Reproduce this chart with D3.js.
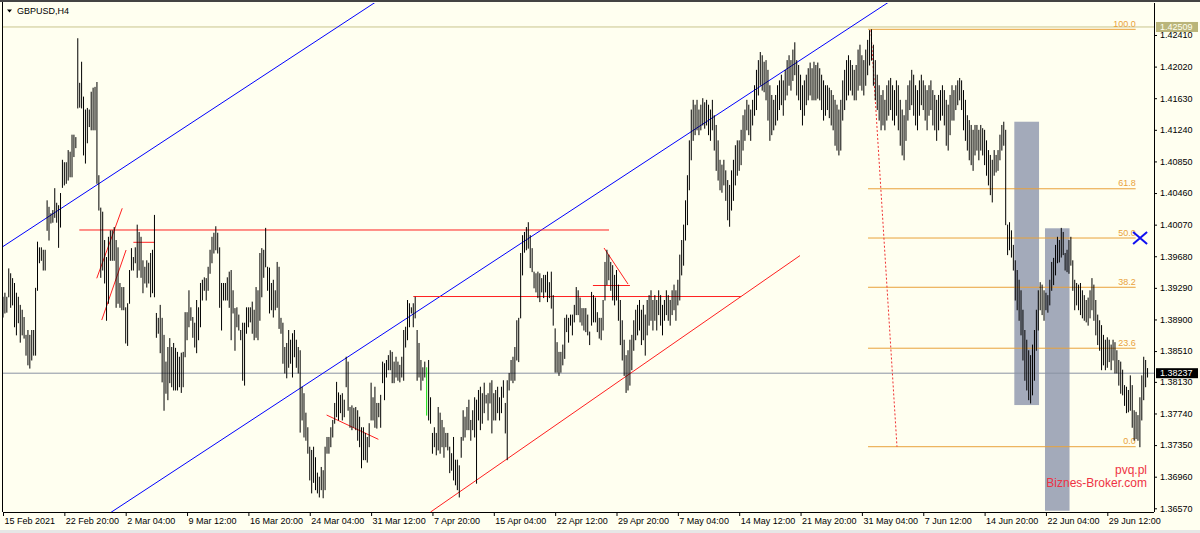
<!DOCTYPE html>
<html><head><meta charset="utf-8">
<script src="https://cdn.jsdelivr.net/npm/d3@7"></script>
<style>body{margin:0;background:#FFFFF0;}svg{display:block;font-family:"Liberation Sans",Arial,sans-serif;}</style>
</head><body><svg id="c" width="1200" height="533"></svg>
<script>
const symbolTitle = "GBPUSD,H4";
const timeLabels = ["15 Feb 2021","22 Feb 20:00","2 Mar 04:00","9 Mar 12:00","16 Mar 20:00","24 Mar 04:00","31 Mar 12:00","7 Apr 20:00","15 Apr 04:00","22 Apr 12:00","29 Apr 20:00","7 May 04:00","14 May 12:00","21 May 20:00","31 May 04:00","7 Jun 12:00","14 Jun 20:00","22 Jun 04:00","29 Jun 12:00"];
const barsPerLabel = 32;
const priceTicks = [1.42410,1.42020,1.41630,1.41240,1.40850,1.40460,1.40070,1.39680,1.39290,1.38900,1.38510,1.38130,1.37740,1.37350,1.36960,1.36570];
const highs = [
1.3918,1.3923,1.3918,1.3953,1.3947,1.3941,1.3935,1.3923,1.3918,1.3908,1.3902,1.3893,1.3871,1.3877,1.3871,1.3877,1.3877,1.3929,1.3986,1.3979,1.3979,1.3976,1.3976,1.4037,1.4029,1.4021,1.4025,1.4052,1.4034,1.4031,1.4046,1.4087,
1.4084,1.4084,1.4099,1.4097,1.4118,1.4118,1.4115,1.4237,1.4182,1.4208,1.4165,1.4149,1.4151,1.4149,1.4171,1.4176,1.4177,1.4183,1.4068,1.4028,1.4023,1.3988,1.3967,1.3992,1.4000,1.4000,1.4004,1.3988,1.3979,1.3935,1.3930,1.3930,
1.3905,1.3910,1.3951,1.3978,1.3967,1.3979,1.4007,1.3998,1.3992,1.3963,1.3955,1.3963,1.3960,1.3972,1.3976,1.4019,1.3898,1.3892,1.3908,1.3892,1.3871,1.3838,1.3856,1.3867,1.3856,1.3861,1.3855,1.3850,1.3844,1.3849,1.3850,1.3899,
1.3899,1.3926,1.3905,1.3893,1.3886,1.3914,1.3905,1.3935,1.3939,1.3942,1.3941,1.3955,1.3976,1.3992,1.3997,1.4005,1.3997,1.3979,1.3935,1.3935,1.3935,1.3942,1.3949,1.3951,1.3926,1.3904,1.3905,1.3896,1.3877,1.3886,1.3886,1.3905,
1.3905,1.3905,1.3912,1.3902,1.3930,1.3926,1.3972,1.3978,1.3976,1.4003,1.3955,1.3954,1.3935,1.3939,1.3926,1.3961,1.3955,1.3892,1.3886,1.3856,1.3861,1.3877,1.3865,1.3873,1.3877,1.3865,1.3856,1.3852,1.3807,1.3799,1.3775,1.3757,
1.3733,1.3729,1.3733,1.3720,1.3701,1.3696,1.3708,1.3704,1.3733,1.3745,1.3745,1.3757,1.3766,1.3787,1.3813,1.3800,1.3797,1.3799,1.3791,1.3844,1.3838,1.3782,1.3784,1.3781,1.3782,1.3778,1.3770,1.3757,1.3757,1.3750,1.3745,1.3762,
1.3812,1.3794,1.3807,1.3787,1.3787,1.3797,1.3838,1.3836,1.3840,1.3846,1.3852,1.3850,1.3838,1.3844,1.3838,1.3834,1.3844,1.3877,1.3881,1.3914,1.3910,1.3905,1.3910,1.3918,1.3877,1.3861,1.3840,1.3831,1.3838,1.3831,1.3840,1.3794,
1.3750,1.3757,1.3750,1.3782,1.3775,1.3766,1.3757,1.3750,1.3750,1.3733,1.3725,1.3745,1.3717,1.3717,1.3710,1.3745,1.3778,1.3770,1.3782,1.3791,1.3766,1.3778,1.3794,1.3791,1.3803,1.3807,1.3799,1.3812,1.3797,1.3799,1.3812,1.3815,
1.3799,1.3803,1.3807,1.3794,1.3807,1.3815,1.3787,1.3815,1.3824,1.3840,1.3844,1.3856,1.3889,1.3892,1.3972,1.3994,1.3998,1.4004,1.4010,1.3994,1.3978,1.3949,1.3947,1.3949,1.3947,1.3941,1.3945,1.3945,1.3949,1.3936,1.3949,1.3920,
1.3879,1.3862,1.3850,1.3850,1.3859,1.3892,1.3896,1.3892,1.3896,1.3896,1.3908,1.3930,1.3926,1.3917,1.3904,1.3904,1.3904,1.3896,1.3875,1.3924,1.3920,1.3917,1.3899,1.3892,
1.3892,1.3914,1.3961,1.3976,1.3970,1.3961,1.3957,1.3945,
1.3951,1.3933,1.3914,1.3889,1.3865,1.3846,1.3852,1.3865,
1.3871,1.3889,1.3902,1.3908,1.3914,1.3902,1.3908,1.3896,
1.3914,1.3920,1.3926,1.3914,1.3920,1.3914,1.3926,1.3920,
1.3908,1.3914,1.3926,1.3920,1.3914,1.3926,1.3933,1.3926,
1.3939,1.3970,1.3988,1.4007,1.4037,1.4068,1.4111,1.4149,
1.4161,1.4155,1.4161,1.4149,1.4155,1.4163,1.4158,1.4161,
1.4155,1.4149,1.4161,1.4142,1.4130,1.4111,1.4087,1.4081,
1.4087,1.4074,1.4062,1.4056,1.4074,1.4087,1.4105,1.4111,
1.4111,1.4124,1.4142,1.4149,1.4161,1.4155,1.4149,1.4161,
1.4179,1.4198,1.4210,1.4220,1.4216,1.4208,1.4210,1.4198,
1.4179,1.4167,1.4161,1.4167,1.4179,1.4185,1.4192,1.4185,
1.4198,1.4210,1.4216,1.4210,1.4223,1.4232,1.4210,1.4204,
1.4192,1.4179,1.4185,1.4192,1.4200,1.4207,1.4200,1.4208,
1.4204,1.4207,1.4200,1.4192,1.4185,1.4179,1.4179,1.4176,
1.4173,1.4167,1.4161,1.4155,1.4149,1.4161,1.4185,1.4198,
1.4210,1.4216,1.4210,1.4204,1.4198,1.4204,1.4223,1.4229,
1.4216,1.4210,1.4223,1.4235,1.4247,1.4248,1.4229,1.4210,
1.4192,1.4179,1.4167,1.4173,1.4161,1.4179,1.4185,1.4188,
1.4179,1.4173,1.4185,1.4179,1.4161,1.4149,1.4142,1.4161,
1.4179,1.4185,1.4198,1.4192,1.4179,1.4173,1.4185,1.4192,
1.4185,1.4179,1.4173,1.4179,1.4185,1.4173,1.4167,1.4161,
1.4167,1.4173,1.4179,1.4173,1.4161,1.4155,1.4167,1.4179,
1.4173,1.4179,1.4185,1.4188,1.4185,1.4173,1.4161,1.4142,
1.4136,1.4130,1.4124,1.4130,1.4130,1.4124,1.4130,1.4126,
1.4124,1.4111,1.4099,1.4093,1.4087,1.4099,1.4093,1.4099,
1.4118,1.4130,1.4134,1.4124,1.4007,1.4010,1.4000,1.3982,
1.3963,1.3951,1.3939,1.3926,1.3902,1.3877,1.3865,1.3852,
1.3846,1.3859,1.3877,1.3902,1.3926,1.3936,1.3933,1.3926,
1.3923,1.3920,1.3939,1.3961,1.3966,1.3982,1.3992,1.3988,
1.4003,1.3998,1.3972,1.3976,1.3988,1.3992,1.3963,1.3939,
1.3935,1.3933,1.3935,1.3926,1.3920,1.3914,1.3917,1.3926,
1.3941,1.3933,1.3914,1.3896,1.3889,1.3883,1.3871,1.3865,
1.3868,1.3865,1.3859,1.3865,1.3862,1.3852,1.3840,1.3838,
1.3828,1.3809,1.3807,1.3803,1.3821,1.3809,1.3778,1.3776,
1.3772,1.3794,1.3821,1.3844,1.3840,1.3830
];
const lows = [
1.3893,1.3898,1.3899,1.3918,1.3905,1.3908,1.3881,1.3871,1.3886,1.3862,1.3871,1.3867,1.3846,1.3834,1.3830,1.3840,1.3846,1.3846,1.3926,1.3960,1.3963,1.3951,1.3951,1.4000,1.3988,1.4009,1.4010,1.4016,1.4010,1.3979,1.4004,1.4053,
1.4056,1.4058,1.4062,1.4066,1.4066,1.4091,1.4102,1.4151,1.4152,1.4151,1.4093,1.4083,1.4108,1.4128,1.4124,1.4124,1.4124,1.4058,1.4025,1.3942,1.3951,1.3935,1.3889,1.3910,1.3963,1.3963,1.3963,1.3905,1.3910,1.3905,1.3902,1.3902,
1.3861,1.3858,1.3910,1.3951,1.3951,1.3960,1.3942,1.3951,1.3942,1.3923,1.3935,1.3930,1.3935,1.3918,1.3923,1.3918,1.3868,1.3873,1.3849,1.3813,1.3778,1.3799,1.3791,1.3812,1.3807,1.3803,1.3803,1.3803,1.3807,1.3800,1.3807,1.3844,
1.3865,1.3881,1.3889,1.3868,1.3856,1.3849,1.3865,1.3881,1.3914,1.3926,1.3914,1.3926,1.3947,1.3960,1.3972,1.3976,1.3972,1.3905,1.3877,1.3914,1.3914,1.3914,1.3905,1.3865,1.3898,1.3852,1.3881,1.3877,1.3865,1.3815,1.3809,1.3873,
1.3881,1.3887,1.3873,1.3865,1.3868,1.3865,1.3889,1.3918,1.3942,1.3955,1.3926,1.3898,1.3902,1.3893,1.3902,1.3905,1.3879,1.3873,1.3836,1.3824,1.3818,1.3831,1.3836,1.3819,1.3844,1.3831,1.3824,1.3751,1.3766,1.3745,1.3741,1.3725,
1.3692,1.3676,1.3689,1.3680,1.3676,1.3671,1.3680,1.3670,1.3680,1.3725,1.3725,1.3733,1.3745,1.3762,1.3770,1.3766,1.3775,1.3766,1.3770,1.3807,1.3778,1.3757,1.3754,1.3757,1.3754,1.3741,1.3733,1.3707,1.3717,1.3717,1.3714,1.3733,
1.3766,1.3766,1.3757,1.3756,1.3770,1.3757,1.3812,1.3791,1.3819,1.3828,1.3828,1.3812,1.3812,1.3819,1.3815,1.3813,1.3819,1.3815,1.3856,1.3865,1.3881,1.3898,1.3881,1.3892,1.3815,1.3819,1.3803,1.3815,1.3819,1.3772,1.3766,1.3762,
1.3725,1.3733,1.3723,1.3729,1.3725,1.3733,1.3720,1.3733,1.3729,1.3701,1.3704,1.3692,1.3686,1.3680,1.3671,1.3720,1.3741,1.3745,1.3754,1.3754,1.3741,1.3754,1.3745,1.3688,1.3766,1.3754,1.3762,1.3775,1.3787,1.3766,1.3787,1.3750,
1.3766,1.3766,1.3775,1.3766,1.3775,1.3794,1.3750,1.3717,1.3803,1.3815,1.3812,1.3815,1.3840,1.3838,1.3892,1.3945,1.3973,1.3976,1.3978,1.3954,1.3949,1.3929,1.3924,1.3917,1.3912,1.3924,1.3917,1.3924,1.3912,1.3917,1.3904,1.3883,
1.3825,1.3825,1.3821,1.3825,1.3834,1.3842,1.3875,1.3862,1.3883,1.3871,1.3887,1.3896,1.3896,1.3887,1.3883,1.3877,1.3875,1.3871,1.3859,1.3883,1.3887,1.3887,1.3875,1.3867,
1.3865,1.3877,1.3914,1.3933,1.3939,1.3926,1.3914,1.3908,
1.3914,1.3889,1.3859,1.3840,1.3821,1.3800,1.3803,1.3809,
1.3828,1.3852,1.3865,1.3871,1.3877,1.3859,1.3865,1.3846,
1.3871,1.3883,1.3889,1.3877,1.3889,1.3877,1.3896,1.3883,
1.3871,1.3889,1.3896,1.3889,1.3883,1.3896,1.3902,1.3889,
1.3908,1.3914,1.3945,1.3957,1.3988,1.4007,1.4050,1.4087,
1.4111,1.4118,1.4124,1.4118,1.4124,1.4130,1.4126,1.4130,
1.4118,1.4111,1.4124,1.4099,1.4074,1.4062,1.4050,1.4047,
1.4056,1.4037,1.4013,1.4005,1.4025,1.4037,1.4056,1.4068,
1.4074,1.4081,1.4099,1.4111,1.4124,1.4118,1.4111,1.4130,
1.4142,1.4149,1.4167,1.4179,1.4173,1.4171,1.4161,1.4136,
1.4111,1.4118,1.4124,1.4130,1.4136,1.4149,1.4155,1.4142,
1.4161,1.4167,1.4179,1.4173,1.4185,1.4192,1.4167,1.4161,
1.4149,1.4130,1.4142,1.4155,1.4161,1.4167,1.4161,1.4161,
1.4161,1.4163,1.4161,1.4149,1.4136,1.4142,1.4149,1.4139,
1.4130,1.4124,1.4105,1.4099,1.4093,1.4099,1.4136,1.4149,
1.4161,1.4167,1.4173,1.4167,1.4161,1.4161,1.4173,1.4179,
1.4173,1.4167,1.4179,1.4192,1.4204,1.4210,1.4179,1.4161,
1.4149,1.4136,1.4124,1.4130,1.4124,1.4136,1.4142,1.4149,
1.4136,1.4130,1.4142,1.4124,1.4105,1.4093,1.4087,1.4111,
1.4136,1.4149,1.4155,1.4142,1.4130,1.4124,1.4142,1.4155,
1.4149,1.4136,1.4124,1.4142,1.4149,1.4130,1.4124,1.4111,
1.4124,1.4136,1.4142,1.4130,1.4105,1.4099,1.4118,1.4136,
1.4136,1.4149,1.4155,1.4161,1.4149,1.4124,1.4111,1.4099,
1.4087,1.4081,1.4074,1.4093,1.4099,1.4087,1.4099,1.4093,
1.4081,1.4068,1.4056,1.4044,1.4035,1.4068,1.4072,1.4074,
1.4087,1.4099,1.4105,1.4007,1.3970,1.3976,1.3967,1.3951,
1.3914,1.3902,1.3889,1.3871,1.3840,1.3815,1.3803,1.3791,
1.3787,1.3797,1.3815,1.3852,1.3877,1.3902,1.3896,1.3889,
1.3902,1.3899,1.3908,1.3926,1.3933,1.3945,1.3960,1.3961,
1.3967,1.3970,1.3951,1.3949,1.3947,1.3957,1.3926,1.3902,
1.3908,1.3902,1.3896,1.3892,1.3889,1.3887,1.3883,1.3892,
1.3902,1.3889,1.3871,1.3859,1.3852,1.3828,1.3834,1.3828,
1.3831,1.3838,1.3828,1.3840,1.3824,1.3824,1.3809,1.3799,
1.3797,1.3784,1.3775,1.3776,1.3778,1.3757,1.3741,1.3743,
1.3741,1.3733,1.3766,1.3791,1.3807,1.3819
];
const greenBarIndex = 221;
const currentPrice = 1.38237;
const markerPrice = 1.42509;
const fibHigh = 1.4248, fibLow = 1.3733;
const fibLevels = [100, 61.8, 50, 38.2, 23.6, 0];
const fibFrom = 451.2, fibTo = 590.8;
const fibBase = {i1: 452.7, p1: 1.4247, i2: 466.3, p2: 1.3733};
const channelLines = [
  {i1: 0, p1: 1.3980, i2: 150, p2: 1.42128},
  {i1: 100, p1: 1.37198, i2: 400, p2: 1.41854}
];
const redTrendLines = [
  {i1: 223.0, p1: 1.36524, i2: 415.7, p2: 1.39688},
  {i1: 39.8, p1: 1.40004, i2: 316.1, p2: 1.40004},
  {i1: 214.0, p1: 1.39183, i2: 385.0, p2: 1.39183},
  {i1: 68.0, p1: 1.39852, i2: 79.3, p2: 1.39852},
  {i1: 307.7, p1: 1.39319, i2: 327.0, p2: 1.39319},
  {i1: 313.5, p1: 1.39782, i2: 326.0, p2: 1.39337},
  {i1: 48.9, p1: 1.39408, i2: 62.2, p2: 1.40272},
  {i1: 51.5, p1: 1.38893, i2: 64.2, p2: 1.39757},
  {i1: 168.8, p1: 1.37721, i2: 195.8, p2: 1.37421}
];
const zones = [
  {i1: 527.5, i2: 540.4, p1: 1.41340, p2: 1.37844},
  {i1: 543.5, i2: 556.3, p1: 1.40025, p2: 1.36540}
];
const crossMark = {i: 593.1, p: 1.39905};
const watermark = ["pvq.pl", "Biznes-Broker.com"];

const svg = d3.select("#c");
const L = 3, R = 1154, T = 3, B = 512;
const x = d3.scaleLinear().domain([0, 600]).range([3, 3 + 600 * 61.35 / barsPerLabel]);
const y = d3.scaleLinear().domain([1.36570, 1.42410]).range([508.3, 35]);

svg.append("rect").attr("width",1200).attr("height",533).attr("fill","#FFFFF0");
svg.append("rect").attr("x",0).attr("y",530).attr("width",1200).attr("height",3).attr("fill","#E6E6E6");
svg.append("defs").append("clipPath").attr("id","plot").append("rect")
  .attr("x",L).attr("y",T).attr("width",R-L).attr("height",B-T);
const g = svg.append("g").attr("clip-path","url(#plot)");

g.selectAll(".zone").data(zones).join("rect")
  .attr("x",d=>x(d.i1)).attr("width",d=>x(d.i2)-x(d.i1))
  .attr("y",d=>y(d.p1)).attr("height",d=>y(d.p2)-y(d.p1))
  .attr("fill","#A3AABA");

g.append("line").attr("x1",L).attr("x2",R).attr("y1",y(markerPrice)).attr("y2",y(markerPrice))
  .attr("stroke","#C9C58E").attr("stroke-width",1);
g.append("line").attr("x1",L).attr("x2",R).attr("y1",y(currentPrice)).attr("y2",y(currentPrice))
  .attr("stroke","#8A93A3").attr("stroke-width",1);

const fibPrice = lv => fibLow + (fibHigh - fibLow) * lv / 100;
g.selectAll(".fib").data(fibLevels).join("line")
  .attr("x1",x(fibFrom)).attr("x2",x(fibTo))
  .attr("y1",d=>y(fibPrice(d))).attr("y2",d=>y(fibPrice(d)))
  .attr("stroke","#E9A23B").attr("stroke-width",1);
g.selectAll(".fibt").data(fibLevels).join("text")
  .attr("x",x(fibTo)).attr("y",d=>y(fibPrice(d))-2.5)
  .attr("text-anchor","end").attr("font-size",9).attr("fill","#E9A23B")
  .text(d=>d.toFixed(1));
g.append("line").attr("x1",x(fibBase.i1)).attr("y1",y(fibBase.p1)).attr("x2",x(fibBase.i2)).attr("y2",y(fibBase.p2))
  .attr("stroke","#F03030").attr("stroke-dasharray","2,2").attr("stroke-width",1);

channelLines.forEach(d => {
  const s = (d.p2 - d.p1) / (d.i2 - d.i1);
  const a = -100, b = 700;
  g.append("line").attr("x1",x(a)).attr("y1",y(d.p1 + s*(a-d.i1)))
    .attr("x2",x(b)).attr("y2",y(d.p1 + s*(b-d.i1)))
    .attr("stroke","#0000FF").attr("stroke-width",1);
});
g.selectAll(".red").data(redTrendLines).join("line")
  .attr("x1",d=>x(d.i1)).attr("y1",d=>y(d.p1)).attr("x2",d=>x(d.i2)).attr("y2",d=>y(d.p2))
  .attr("stroke","#FF2020").attr("stroke-width",1);

g.selectAll(".bar").data(highs.map((h,i)=>({i,h,l:lows[i]}))).join("line")
  .attr("x1",d=>x(d.i)).attr("x2",d=>x(d.i))
  .attr("y1",d=>y(d.h)).attr("y2",d=>y(d.l)+0.5)
  .attr("stroke",d=>d.i===greenBarIndex?"#00DD00":"#000").attr("stroke-width",1);

const cx = x(crossMark.i), cy = y(crossMark.p);
g.append("path").attr("d",`M${cx-7},${cy-6}L${cx+7},${cy+6}M${cx-7},${cy+6}L${cx+7},${cy-6}`)
  .attr("stroke","#1010F0").attr("stroke-width",2).attr("fill","none");

g.append("text").attr("x",1147).attr("y",474).attr("text-anchor","end").attr("font-size",12).attr("fill","#EE3344").text(watermark[0]);
g.append("text").attr("x",1147).attr("y",487).attr("text-anchor","end").attr("font-size",12).attr("fill","#EE3344").text(watermark[1]);

svg.append("line").attr("x1",0).attr("x2",1200).attr("y1",1).attr("y2",1).attr("stroke","#444").attr("stroke-width",2);
svg.append("line").attr("x1",2.5).attr("x2",2.5).attr("y1",2).attr("y2",B).attr("stroke","#000");

const ax = svg.append("g").attr("transform",`translate(0,${B})`)
  .call(d3.axisBottom(x).tickValues(timeLabels.map((_,k)=>k*barsPerLabel)).tickFormat((d,k)=>timeLabels[k]).tickSize(4).tickSizeOuter(0));
ax.select(".domain").attr("d",`M${L},0.5H${R}`).attr("stroke","#000");
ax.selectAll(".tick line").attr("stroke","#000");
ax.selectAll(".tick text").attr("text-anchor","start").attr("dx",1).attr("y",6).attr("font-size",9).attr("fill","#000").attr("font-family","Liberation Sans, Arial, sans-serif");

const ay = svg.append("g").attr("transform",`translate(${R},0)`)
  .call(d3.axisRight(y).tickValues(priceTicks).tickFormat(d3.format(".5f")).tickSize(3).tickSizeOuter(0));
ay.select(".domain").attr("d",`M0.5,${T}V${B}`).attr("stroke","#000");
ay.selectAll(".tick line").attr("stroke","#000");
ay.selectAll(".tick text").attr("x",6).attr("font-size",9).attr("fill","#000").attr("font-family","Liberation Sans, Arial, sans-serif");

function priceBox(p, bg, fg){
  const yy = y(p);
  svg.append("rect").attr("x",R+2).attr("y",yy-5).attr("width",42).attr("height",10).attr("fill",bg);
  svg.append("text").attr("x",R+6).attr("y",yy).attr("dy","0.32em").attr("font-size",9).attr("fill",fg).text(p.toFixed(5));
}
priceBox(markerPrice, "#BAB57A", "#FFFFF0");
priceBox(currentPrice, "#000", "#FFF");

svg.append("path").attr("d","M7,9.5L12,9.5L9.5,12.5Z").attr("fill","#000");
svg.append("text").attr("x",17).attr("y",14).attr("font-size",9).attr("fill","#000").text(symbolTitle);
</script></body></html>
